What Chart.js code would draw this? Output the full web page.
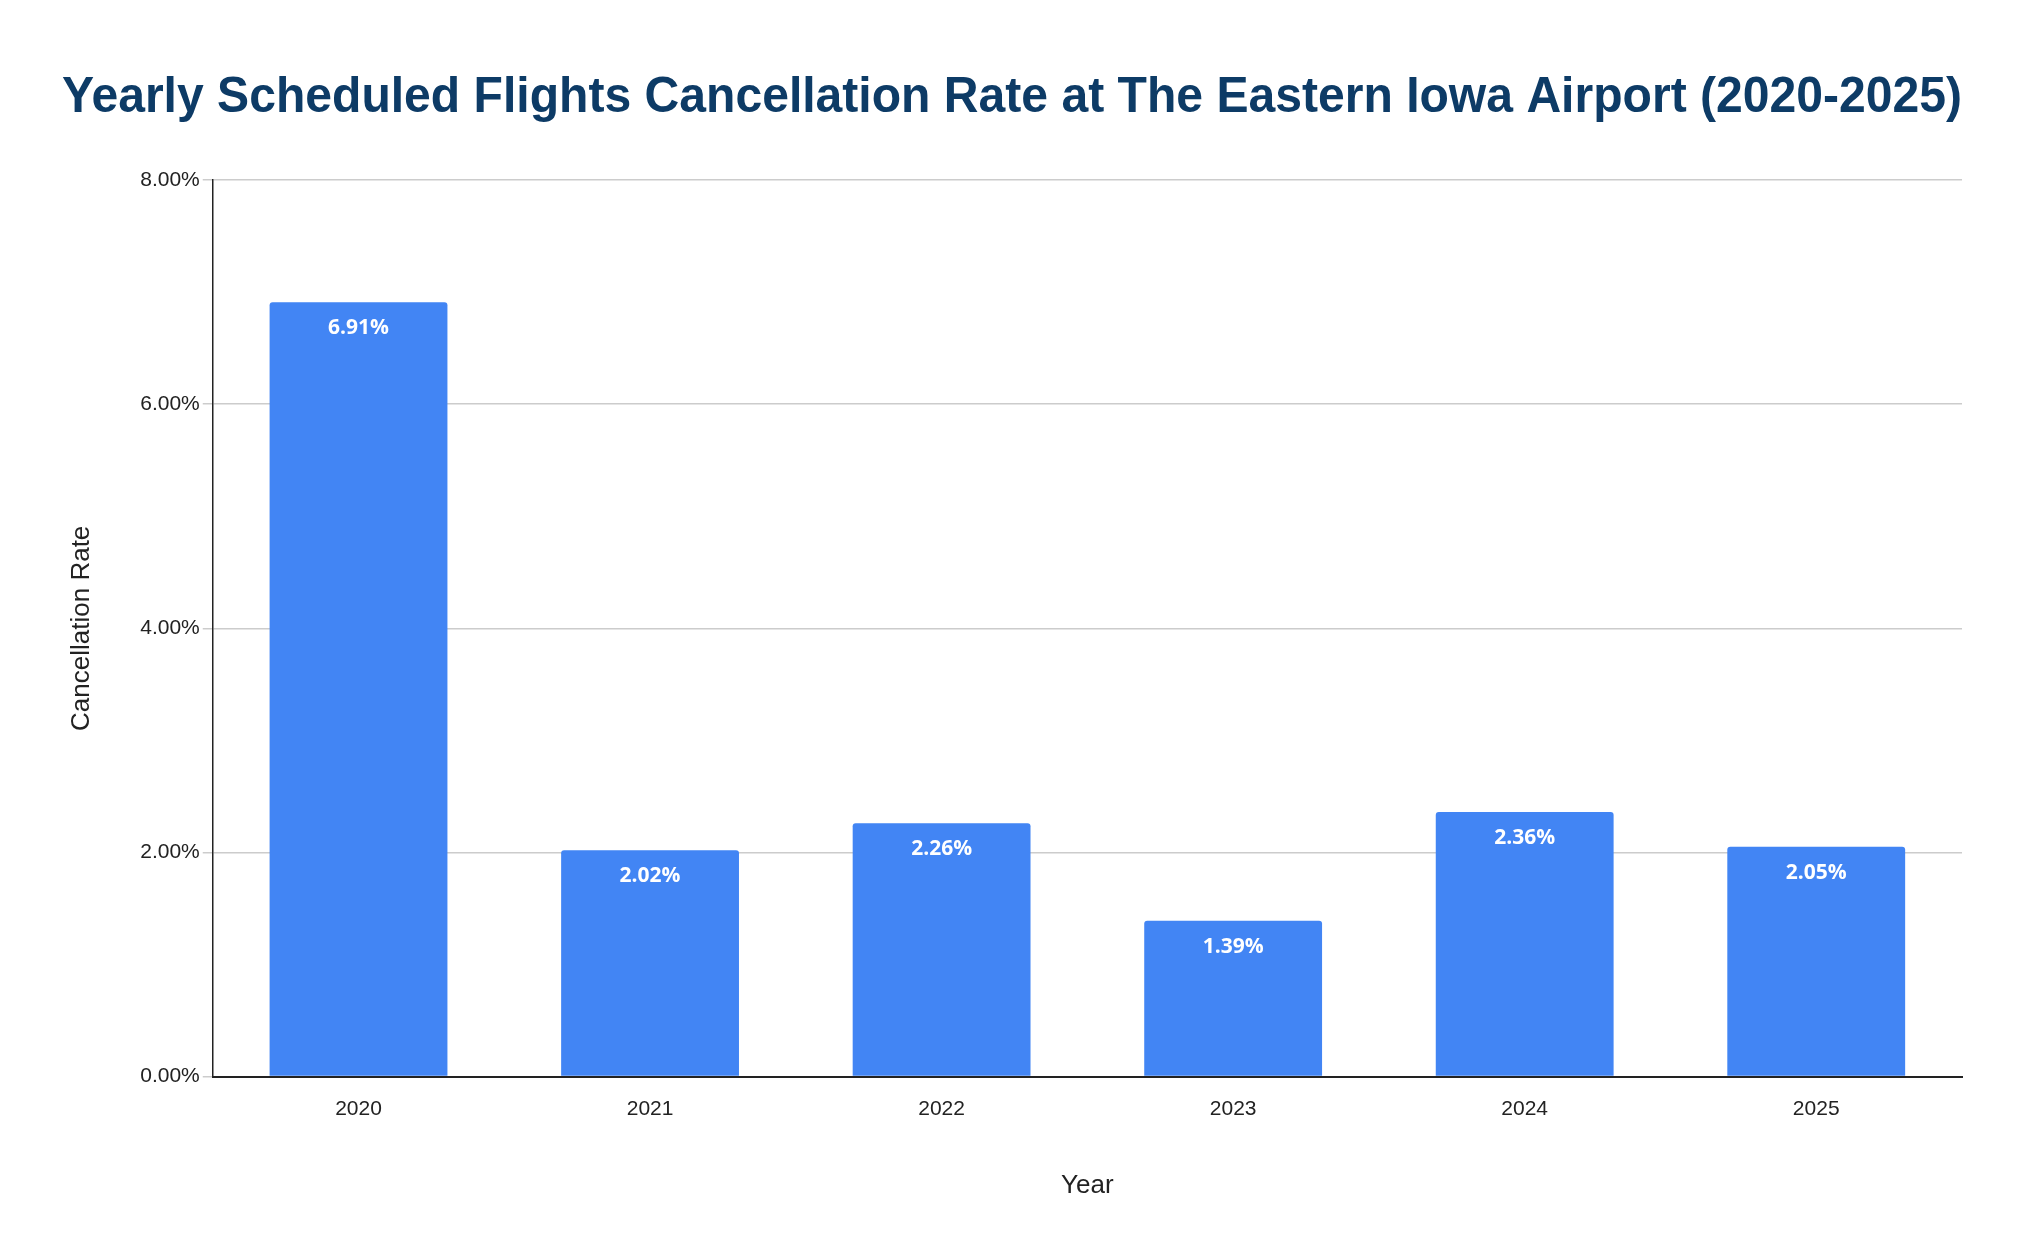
<!DOCTYPE html>
<html><head><meta charset="utf-8">
<script src="https://cdn.jsdelivr.net/npm/chart.js@4"></script>
<style>html,body{margin:0;padding:0;background:#fff}#wrap{width:2024px;height:1250px}</style>
</head><body><div id="wrap"><canvas id="c" width="2024" height="1250"></canvas></div>
<script>
const years = ["2020","2021","2022","2023","2024","2025"];
const rates = [6.91, 2.02, 2.26, 1.39, 2.36, 2.05];
const yTicks = [0, 2, 4, 6, 8];
const F = '"Liberation Sans", Arial, sans-serif';

const labelPlugin = {
  id: 'barLabels',
  afterDatasetsDraw(chart) {
    const ctx = chart.ctx;
    const meta = chart.getDatasetMeta(0);
    ctx.save();
    ctx.fillStyle = '#ffffff';
    ctx.font = 'bold 21px "Open Sans", Roboto, sans-serif';
    ctx.textAlign = 'center';
    ctx.textBaseline = 'middle';
    meta.data.forEach((bar, i) => {
      ctx.fillText(rates[i].toFixed(2) + '%', bar.x, bar.y + 26);
    });
    ctx.restore();
  }
};

new Chart(document.getElementById('c'), {
  type: 'bar',
  data: { labels: years, datasets: [{ data: rates, backgroundColor: '#4285f4', borderRadius: 3, borderSkipped: 'bottom', categoryPercentage: 0.61, barPercentage: 1 }] },
  options: {
    responsive: false, animation: false,
    layout: { padding: { left: 62, right: 62, top: 10, bottom: 45 } },
    plugins: {
      legend: { display: false }, tooltip: { enabled: false },
      title: { display: true, text: 'Yearly Scheduled Flights Cancellation Rate at The Eastern Iowa Airport (2020-2025)',
        color: '#0d3b66', font: { family: F, size: 50, weight: 'bold' }, padding: { top: 58, bottom: 52 } }
    },
    scales: {
      x: { grid: { display: false }, border: { color: '#222', width: 2 },
        ticks: { color: '#222', font: { family: F, size: 21 }, padding: 12 },
        title: { display: true, text: 'Year', color: '#222', font: { family: F, size: 26 }, padding: { top: 36 } } },
      y: { min: 0, max: 8, afterBuildTicks(s) { s.ticks = yTicks.map(v => ({ value: v })); },
        grid: { color: '#cccccc', lineWidth: 1.5, drawTicks: true, tickLength: 10 }, border: { color: '#222', width: 1.5 },
        ticks: { color: '#222', font: { family: F, size: 21 }, callback: v => v.toFixed(2) + '%' },
        title: { display: true, text: 'Cancellation Rate', color: '#222', font: { family: F, size: 26 }, padding: { bottom: 40 } } }
    }
  },
  plugins: [labelPlugin]
});
</script></body></html>
